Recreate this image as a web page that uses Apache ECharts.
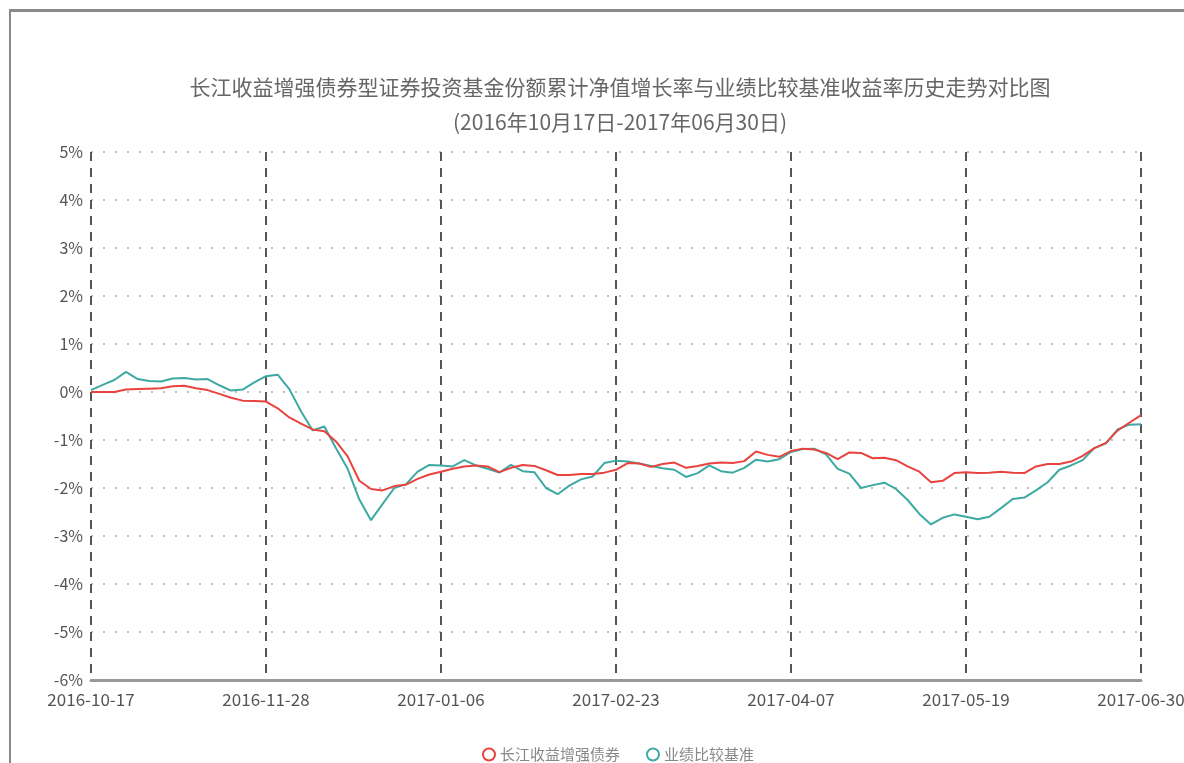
<!DOCTYPE html>
<html>
<head>
<meta charset="utf-8">
<script src="https://cdn.jsdelivr.net/npm/echarts@6/dist/echarts.min.js"></script>
<style>
html,body{margin:0;padding:0;background:#fff;}
#chart{position:absolute;left:0;top:0;width:1184px;height:763px;}
#frame{position:absolute;left:9px;top:9px;width:1175px;height:754px;border-top:3px solid #8a8a8a;border-left:2px solid #8a8a8a;pointer-events:none;}
</style>
</head>
<body>
<div id="chart"></div>
<div id="frame"></div>
<script>
// Tick labels on the x axis (every 30 trading days)
var tickLabels = ['2016-10-17','2016-11-28','2017-01-06','2017-02-23','2017-04-07','2017-05-19','2017-06-30'];
var tickStep = 30;
// x positions (trading-day index) of the sampled values
var sampleStep = 2;
// 长江收益增强债券 cumulative NAV growth (%)
var fundValues = [
 0, 0, 0, 0.05, 0.06, 0.07, 0.08, 0.12, 0.13, 0.08,
 0.04, -0.04, -0.12, -0.18, -0.19, -0.2, -0.34, -0.53, -0.66, -0.78,
 -0.82, -1.03, -1.34, -1.85, -2.02, -2.05, -1.96, -1.93, -1.81, -1.72,
 -1.66, -1.6, -1.55, -1.53, -1.55, -1.67, -1.58, -1.52, -1.54, -1.63,
 -1.73, -1.73, -1.71, -1.71, -1.68, -1.62, -1.48, -1.49, -1.56, -1.5,
 -1.47, -1.58, -1.54, -1.49, -1.47, -1.48, -1.44, -1.24, -1.31, -1.35,
 -1.23, -1.18, -1.2, -1.27, -1.4, -1.26, -1.27, -1.38, -1.37, -1.42,
 -1.55, -1.66, -1.88, -1.85, -1.69, -1.67, -1.69, -1.68, -1.66, -1.68,
 -1.69, -1.55, -1.5, -1.5, -1.45, -1.33, -1.17, -1.06, -0.8, -0.64,
 -0.48
];
// 业绩比较基准 benchmark return (%)
var benchValues = [
 0.04, 0.15, 0.25, 0.42, 0.27, 0.23, 0.22, 0.28, 0.29, 0.26,
 0.27, 0.14, 0.03, 0.05, 0.2, 0.33, 0.36, 0.06, -0.4, -0.8,
 -0.72, -1.17, -1.6, -2.24, -2.67, -2.33, -2.0, -1.92, -1.66, -1.52,
 -1.53, -1.55, -1.42, -1.53, -1.6, -1.68, -1.52, -1.65, -1.67, -2.0,
 -2.13, -1.95, -1.82, -1.76, -1.48, -1.43, -1.45, -1.49, -1.54, -1.59,
 -1.62, -1.77, -1.69, -1.53, -1.65, -1.68, -1.58, -1.41, -1.45, -1.4,
 -1.25, -1.19, -1.18, -1.3, -1.6, -1.7, -2.0, -1.94, -1.89, -2.02,
 -2.25, -2.54, -2.76, -2.62, -2.55, -2.6, -2.65, -2.6, -2.42, -2.23,
 -2.2, -2.05, -1.88, -1.62, -1.53, -1.42, -1.17, -1.07, -0.78, -0.68,
 -0.67
];
var seriesNames = ['长江收益增强债券','业绩比较基准'];

function pairs(vals){ return vals.map(function(v,i){ return [i*sampleStep, v]; }); }
var xMax = (tickLabels.length-1)*tickStep;

var chart = echarts.init(document.getElementById('chart'), null, {renderer:'canvas'});
var FONT = "'Noto Sans CJK SC', 'Noto Sans', sans-serif";
chart.setOption({
  animation:false,
  backgroundColor:'#fff',
  title:{
    text:'长江收益增强债券型证券投资基金份额累计净值增长率与业绩比较基准收益率历史走势对比图\n(2016年10月17日-2017年06月30日)',
    left:615, top:65, textAlign:'center',
    textStyle:{fontFamily:FONT,fontSize:21,fontWeight:'normal',color:'#666',lineHeight:35}
  },
  legend:{
    top:742, left:477, itemWidth:12, itemHeight:12, itemGap:26, icon:'emptyCircle',
    textStyle:{fontFamily:FONT,fontSize:15,color:'#888'},
    data:seriesNames
  },
  grid:{left:91,right:43,top:152,bottom:83,containLabel:false,outerBoundsMode:'none'},
  xAxis:{
    type:'value', min:0, max:xMax, interval:tickStep,
    axisLine:{show:true,onZero:false,lineStyle:{color:'#999',width:3}},
    axisTick:{show:false},
    axisLabel:{
      fontFamily:FONT,fontSize:17,color:'#555',margin:11,
      formatter:function(v){ var k=Math.round(v/tickStep); return tickLabels[k]||''; }
    },
    splitLine:{show:true,lineStyle:{color:'#555',width:2,type:[9,7]}}
  },
  yAxis:{
    type:'value', min:-6, max:5, interval:1,
    axisLine:{show:false},
    axisTick:{show:false},
    axisLabel:{fontFamily:FONT,fontSize:16,color:'#555',margin:8,formatter:function(v){return v+'%';}},
    splitLine:{show:true,lineStyle:{color:'#aaa',width:1.5,type:[2,10]}}
  },
  series:[
    {name:seriesNames[0],type:'line',data:pairs(fundValues),showSymbol:false,symbol:'emptyCircle',symbolSize:8,
     lineStyle:{color:'#e8433f',width:2},itemStyle:{color:'#e8433f'},z:3},
    {name:seriesNames[1],type:'line',data:pairs(benchValues),showSymbol:false,symbol:'emptyCircle',symbolSize:8,
     lineStyle:{color:'#3ea9a3',width:2},itemStyle:{color:'#3ea9a3'},z:2}
  ]
});
</script>
</body>
</html>
